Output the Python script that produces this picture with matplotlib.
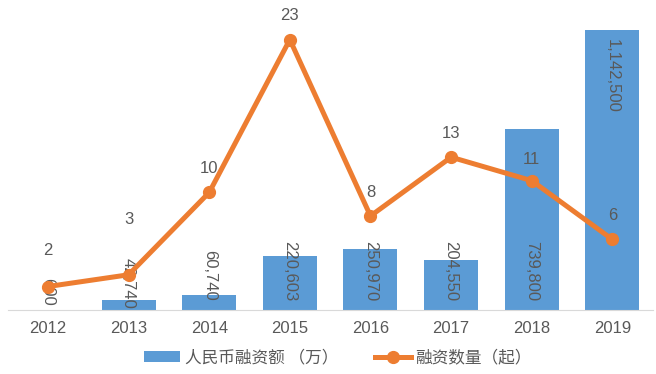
import matplotlib
matplotlib.use("Agg")
import matplotlib.pyplot as plt
from matplotlib.lines import Line2D
from matplotlib.patches import Patch

years = ["2012", "2013", "2014", "2015", "2016", "2017", "2018", "2019"]
amount = [600, 42740, 60740, 220603, 250970, 204550, 739800, 1142500]
count = [2, 3, 10, 23, 8, 13, 11, 6]
amount_labels = ["600", "42,740", "60,740", "220,603", "250,970", "204,550", "739,800", "1,142,500"]
# label centre positions (primary axis units)
amount_label_pos = [73000, 110000, 143000, 159000, 159000, 159000, 159000, 955000]
# label offsets above points (points)
count_label_offset = [26, 40, 17, 17, 17, 17, 15, 17]

blue = "#5B9BD5"
orange = "#ED7D31"
gray = "#595959"
num_font = ["Liberation Sans", "DejaVu Sans"]
cjk_font = ["Noto Sans CJK SC", "DejaVu Sans"]

fig = plt.figure(figsize=(6.56, 3.74), dpi=100)
ax = fig.add_axes([0.0116, 0.171, 0.9834, 0.786])
x = list(range(len(years)))
ax.bar(x, amount, width=0.67, color=blue, zorder=1)
ax.set_ylim(0, 1200000)
ax.set_xlim(-0.5, len(years) - 0.5)
for s in ["top", "left", "right"]:
    ax.spines[s].set_visible(False)
ax.spines["bottom"].set_color("#D9D9D9")
ax.set_yticks([])
ax.set_xticks(x)
ax.set_xticklabels(years, fontsize=12, color=gray, family=num_font)
ax.tick_params(axis="x", length=0, pad=8)
for i, (lbl, pos) in enumerate(zip(amount_labels, amount_label_pos)):
    ax.text(i, pos, lbl, rotation=270, ha="center", va="center",
            fontsize=12, color=gray, family=num_font, zorder=5)

ax2 = ax.twinx()
ax2.set_ylim(0, 25)
ax2.plot(x, count, color=orange, lw=3.6, marker="o", markersize=8.5, zorder=3)
for s in ["top", "left", "right", "bottom"]:
    ax2.spines[s].set_visible(False)
ax2.set_yticks([])
for i, (v, off) in enumerate(zip(count, count_label_offset)):
    ax2.annotate(str(v), (i, v), xytext=(0, off), textcoords="offset points",
                 ha="center", va="center", fontsize=12, color=gray, family=num_font)

handles = [Patch(facecolor=blue, edgecolor="none"),
           Line2D([0], [0], color=orange, lw=3.6, marker="o", markersize=8.5)]
labels = ["人民币融资额 （万）", "融资数量（起）"]
leg = fig.legend(handles, labels, loc="center", bbox_to_anchor=(0.515, 0.043), ncol=2,
                 frameon=False, prop={"family": cjk_font, "size": 12},
                 handlelength=2.2, handleheight=0.6, columnspacing=2.2, handletextpad=0.25)
for t in leg.get_texts():
    t.set_color(gray)

fig.savefig("out.png", dpi=100)
